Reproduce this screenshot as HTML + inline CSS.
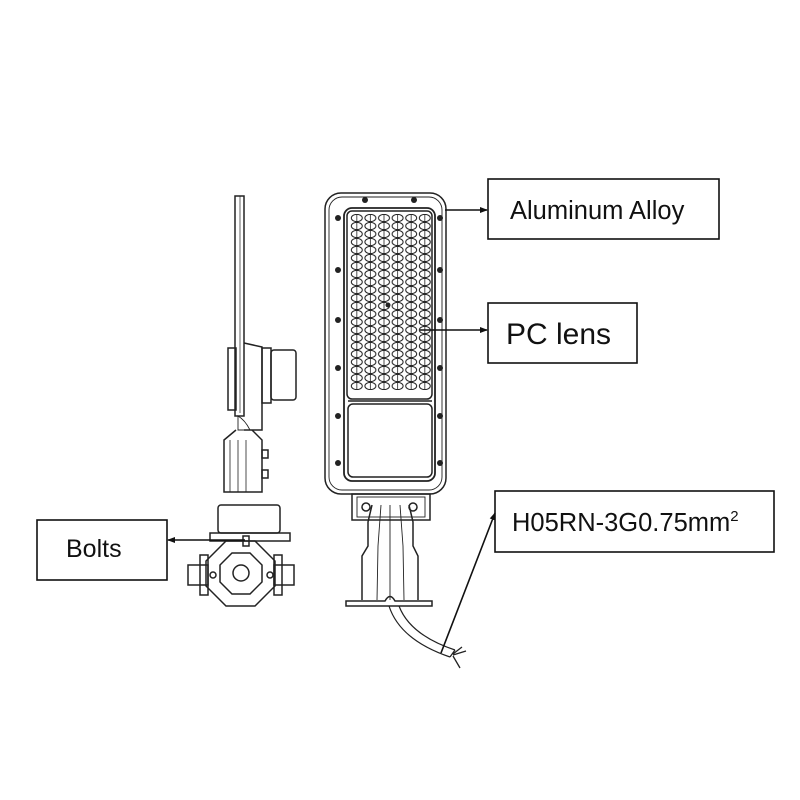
<!DOCTYPE html>
<html><head><meta charset="utf-8"><style>
body{margin:0;background:#fff}
svg{display:block}
text{font-family:"Liberation Sans",Arial,sans-serif;fill:#111}
</style></head><body>
<svg width="800" height="800" viewBox="0 0 800 800" xmlns="http://www.w3.org/2000/svg">
<defs>
<pattern id="led" x="350" y="214" width="13.6" height="8" patternUnits="userSpaceOnUse">
<ellipse cx="6.8" cy="4" rx="5.5" ry="3.6" fill="none" stroke="#222" stroke-width="1"/>
<line x1="6.8" y1="0" x2="6.8" y2="8" stroke="#222" stroke-width="0.8"/>
</pattern>
<marker id="ar" markerWidth="8" markerHeight="8" refX="7" refY="4" orient="auto" markerUnits="userSpaceOnUse"><path d="M0,1 L8,4 L0,7 z" fill="#111"/></marker>
</defs>
<g fill="none" stroke="#222" stroke-width="1.5">
<rect x="325" y="193" width="121" height="301" rx="16"/>
<rect x="329" y="197" width="113" height="293" rx="13" stroke-width="0.9"/>
<rect x="344" y="208" width="91" height="273" rx="8" stroke-width="1.8"/>
<rect x="347" y="211" width="85" height="188" rx="5"/>
<rect x="350" y="214" width="81" height="176" fill="url(#led)" stroke="none"/>
<rect x="348" y="404" width="84" height="73" rx="5"/>
<line x1="348" y1="401" x2="432" y2="401"/>
<rect x="352" y="494" width="78" height="26"/>
<rect x="357" y="497" width="68" height="20" stroke-width="0.9"/>
<circle cx="366" cy="507" r="4"/><circle cx="413" cy="507" r="4"/>
<path d="M372,505 L368,522 L368,546 L362,556 L362,600 M409,505 L413,522 L413,546 L418,556 L418,600"/>
<path d="M381,505 L378,546 L377,600 M400,505 L403,546 L404,600 M390,505 L390,600" stroke-width="0.9"/>
<path d="M346,601 L385,601 Q390,592 395,601 L432,601 L432,606 L346,606 Z"/>
<path d="M389,606 Q400,640 450,657 M399,606 Q410,635 455,650" stroke-width="1.2"/>
<path d="M450,657 L455,650 M453,654 L462,647 M453,655 L466,651 M453,656 L460,668" stroke-width="1.3"/>
<rect x="235" y="196" width="9" height="220"/>
<line x1="240" y1="196" x2="240" y2="413" stroke-width="0.7"/>
<rect x="228" y="348" width="8" height="62"/>
<path d="M244,343 L262,347 L262,430 L244,430"/>
<rect x="262" y="348" width="9" height="55"/>
<rect x="271" y="350" width="25" height="50" rx="3"/>
<path d="M238,416 Q245,420 250,430 L238,430 Z" stroke-width="0.9"/>
<path d="M236,430 L224,440 L224,492 L262,492 L262,440 L252,430"/>
<path d="M230,440 L230,492 M238,440 L238,492 M246,440 L246,492" stroke-width="0.8"/>
<rect x="262" y="450" width="6" height="8"/><rect x="262" y="470" width="6" height="8"/>
<rect x="218" y="505" width="62" height="28" rx="3"/>
<rect x="210" y="533" width="80" height="8"/>
<path d="M226,541 L255,541 L275,561 L275,586 L255,606 L226,606 L206,586 L206,561 Z"/>
<path d="M232,553 L250,553 L262,565 L262,582 L250,594 L232,594 L220,582 L220,565 Z"/>
<circle cx="241" cy="573" r="8"/>
<rect x="188" y="565" width="20" height="20"/><rect x="274" y="565" width="20" height="20"/>
<rect x="200" y="555" width="8" height="40"/><rect x="274" y="555" width="8" height="40"/>
<circle cx="213" cy="575" r="3"/><circle cx="270" cy="575" r="3"/>
<rect x="243" y="536" width="6" height="10"/>
</g>
<g fill="#222">
<circle cx="365" cy="200" r="3"/><circle cx="414" cy="200" r="3"/>
<circle cx="338" cy="218" r="3"/><circle cx="338" cy="270" r="3"/><circle cx="338" cy="320" r="3"/><circle cx="338" cy="368" r="3"/><circle cx="338" cy="416" r="3"/><circle cx="338" cy="463" r="3"/>
<circle cx="440" cy="218" r="3"/><circle cx="440" cy="270" r="3"/><circle cx="440" cy="320" r="3"/><circle cx="440" cy="368" r="3"/><circle cx="440" cy="416" r="3"/><circle cx="440" cy="463" r="3"/>
<circle cx="388" cy="305" r="2.5"/>
</g>
<g stroke="#111" stroke-width="1.6" fill="none">
<line x1="445" y1="210" x2="487" y2="210" marker-end="url(#ar)"/>
<line x1="420" y1="330" x2="487" y2="330" marker-end="url(#ar)"/>
<line x1="441" y1="653" x2="495" y2="513" marker-end="url(#ar)"/>
<line x1="245" y1="540" x2="168" y2="540" marker-end="url(#ar)"/>
<rect x="488" y="179" width="231" height="60"/>
<rect x="488" y="303" width="149" height="60"/>
<rect x="495" y="491" width="279" height="61"/>
<rect x="37" y="520" width="130" height="60"/>
</g>
<text x="510" y="219" font-size="25.5">Aluminum Alloy</text>
<text x="506" y="344" font-size="30">PC lens</text>
<text x="512" y="531" font-size="25.5">H05RN-3G0.75mm<tspan font-size="15" dy="-10">2</tspan></text>
<text x="66" y="557" font-size="25">Bolts</text>
</svg>
</body></html>
